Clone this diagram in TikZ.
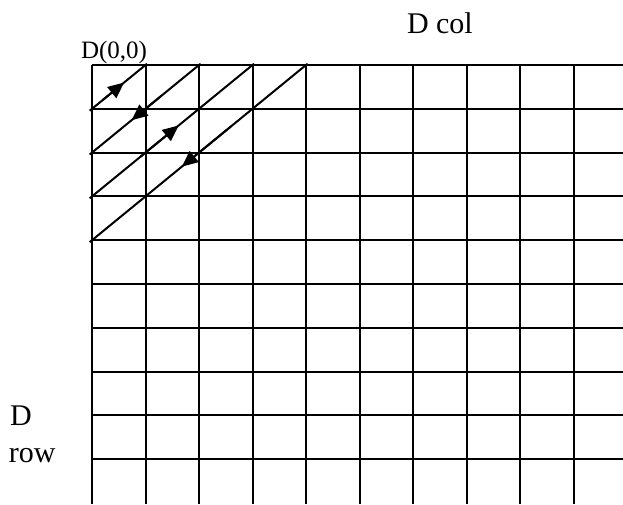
\documentclass[tikz,border=0pt]{standalone}
\usepackage{fontspec}
\setmainfont{Liberation Serif}
\usetikzlibrary{arrows.meta,calc}

\begin{document}
\begin{tikzpicture}[x=1pt,y=-1pt,line width=2pt,
  every node/.style={inner sep=0pt,anchor=base west},
  walk/.style={-{Triangle[length=16pt,width=14pt]}}]
\useasboundingbox (0,0) rectangle (623,504);
% grid
\foreach \i in {0,...,9}{
  \draw (92,{65+43.8*\i}) -- (623,{65+43.8*\i});
  \draw ({92+53.5*\i},65) -- ({92+53.5*\i},504);
}
% zigzag over the anti-diagonals
\foreach \k in {1,...,4}{
  \coordinate (s\k) at (92,{65+43.8*\k});
  \coordinate (e\k) at ({92+53.5*\k},65);
  \draw[shorten <=-3pt,shorten >=-2pt] (s\k) -- (e\k);
}
\draw[walk] ($(s1)!0.2!(e1)$) -- ($(s1)!0.6!(e1)$);
\draw[walk] ($(s2)!0.65!(e2)$) -- ($(s2)!0.37!(e2)$);
\draw[walk] ($(s3)!0.3!(e3)$) -- ($(s3)!0.54!(e3)$);
\draw[walk] ($(s4)!0.65!(e4)$) -- ($(s4)!0.42!(e4)$);
% labels
\node[font=\fontsize{25}{30}\selectfont] (origin) at (80,58) {D(0,0)};
\node[font=\fontsize{30}{36}\selectfont] (dcol) at (406,33) {D col};
\node[font=\fontsize{30}{36}\selectfont] (drow) at (9,425) {D};
\node[font=\fontsize{30}{36}\selectfont] (row) at (8,462) {row};
\end{tikzpicture}
\end{document}
